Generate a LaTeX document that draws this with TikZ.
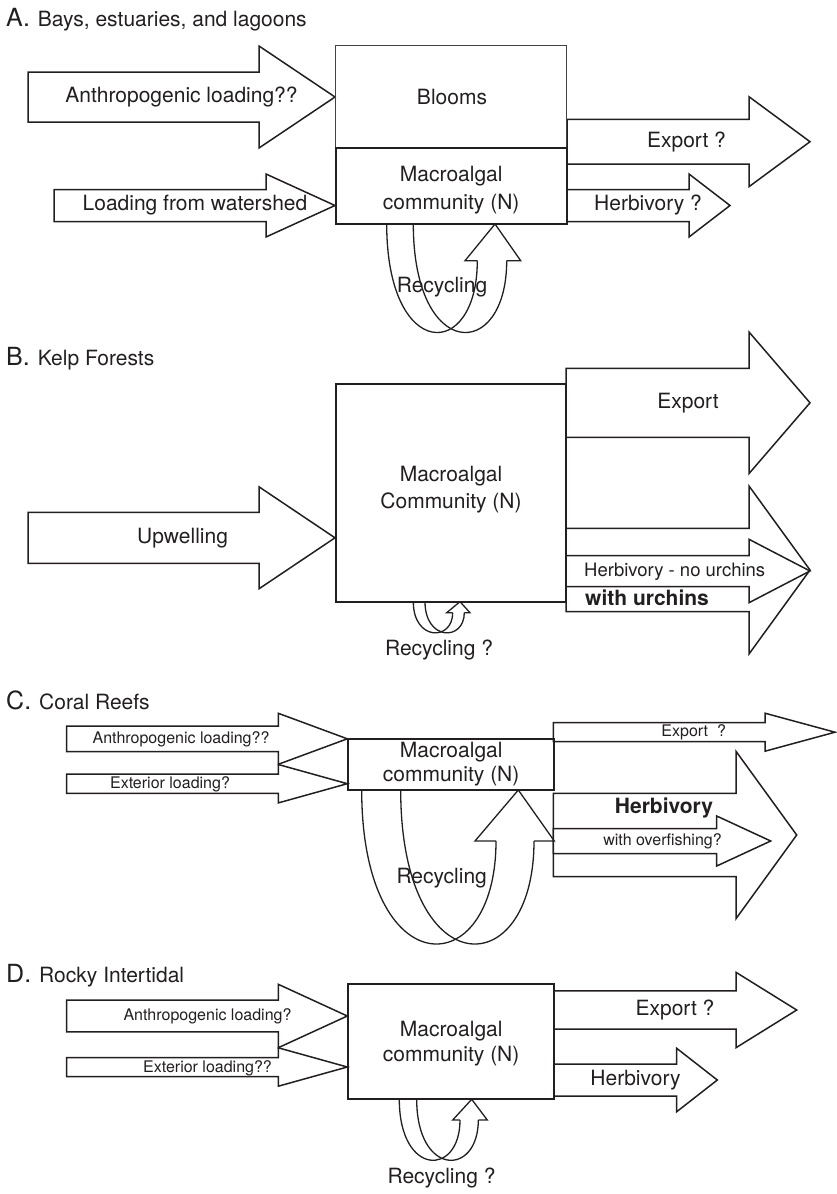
\documentclass[tikz,border=0pt]{standalone}
\usepackage{fontspec}
\setmainfont{TeX Gyre Heros}
\definecolor{ink}{RGB}{35,31,32}
\newcommand\fsz[2]{\fontsize{#1}{#2}\selectfont}
% broad flow arrow: tail x, head-base x, tip x, axis y, half shaft width, half head width
\newcommand\flowarrow[6]{%
  \draw[flowline] (#1,{#4-#5}) -- (#2,{#4-#5}) -- (#2,{#4-#6}) -- (#3,#4)
    -- (#2,{#4+#6}) -- (#2,{#4+#5}) -- (#1,{#4+#5}) -- cycle;}
% twisted recycling ribbon: left edges xa, xb at ytop, lowest point ybot,
% shaft edges xsl, xsr at the head base ybase
\newcommand\recycleband[7]{%
  \draw[recyc] (#1,#3) .. controls (#1,{(8*#4-#3-#7)/6}) and (#5,{(8*#4-#3-#7)/6}) .. (#5,#7);
  \draw[recyc] (#2,#3) .. controls (#2,{(8*#4-#3-#7)/6}) and (#6,{(8*#4-#3-#7)/6}) .. (#6,#7);}
% head of the recycling ribbon: xl, xsl, xtip, ytip, xsr, xr, ybase
\newcommand\recyclehead[7]{%
  \draw[recyc] (#2,#7) -- (#1,#7) -- (#3,#4) -- (#6,#7) -- (#5,#7);}
\begin{document}
\begin{tikzpicture}[x=1pt,y=-1pt,
  flowline/.style={draw=ink, fill=white, line width=1.5pt, line join=miter},
  recyc/.style={draw=ink, line width=1.3pt, line join=miter},
  box/.style={draw=ink, line width=1.7pt, inner sep=0pt, rectangle},
  txt/.style={inner sep=0pt, text=ink},
  big/.style={txt, font=\fsz{21}{25}},
  mid/.style={txt, font=\fsz{18.5}{22}},
  small/.style={txt, font=\fsz{16}{19}},
  boxtxt/.style={txt, align=center},
  panel/.style={txt, anchor=base west}]
\useasboundingbox (0,0) rectangle (836,1194);

% ---------------- A. Bays, estuaries, and lagoons ----------------
\node[panel] (labA) at (6,26) {\fsz{25}{30}A.\hspace{8pt}\fsz{21}{25}Bays, estuaries, and lagoons};
\flowarrow{28}{259}{335}{97}{25}{51}
\flowarrow{54}{266}{335}{205.5}{16}{31.5}
\flowarrow{567}{749}{810}{141.7}{22.3}{45}
\flowarrow{567}{689}{730}{205.5}{16}{31.5}
\node[box, draw=ink!85, line width=1pt, minimum width=231pt, minimum height=102pt] (bloomsA) at (451.2,96.7) {};
\node[box, minimum width=231pt, minimum height=76.6pt] (macroA) at (451.2,186) {};
\recycleband{386.7}{413.3}{224}{332}{477.3}{506.7}{260.7}
\recyclehead{465}{477.3}{495}{224}{506.7}{520.7}{260.7}
\node[big] (tBlooms) at (452,97) {Blooms};
\node[big, boxtxt, font=\fsz{21}{28}] (tMacroA) at (451.2,190.5) {Macroalgal\\community (N)};
\node[big] (tAnthA) at (181.5,97) {Anthropogenic loading??};
\node[big] (tWatershed) at (195,205.5) {Loading from watershed};
\node[big] (tExportA) at (686.5,141.7) {Export ?};
\node[big] (tHerbA) at (648,205) {Herbivory ?};
\node[big] (tRecA) at (442,287) {Recycling};

% ---------------- B. Kelp Forests ----------------
\node[panel] (labB) at (6,365) {\fsz{25}{30}B.\hspace{8pt}\fsz{21}{25}Kelp Forests};
\flowarrow{28}{259}{335}{537.8}{25.5}{51}
\flowarrow{566}{749}{810}{402.8}{34.5}{70.8}
\flowarrow{566}{749}{810}{570}{41.7}{84}
\flowarrow{566}{749}{810}{571}{15.5}{31.7}
\node[box, minimum width=230.3pt, minimum height=217.4pt] (macroB) at (450.85,493) {};
\recycleband{413.3}{425}{601.7}{632.7}{452.7}{464.3}{612.7}
\recyclehead{446.7}{452.7}{460}{601.7}{464.3}{470}{612.7}
\node[big, boxtxt, font=\fsz{21}{27}] (tMacroB) at (451,489.7) {Macroalgal\\Community (N)};
\node[big] (tUpwelling) at (182.5,538) {Upwelling};
\node[big] (tExportB) at (688,403) {Export};
\node[mid, anchor=west] (tNoUrchins) at (584,572) {Herbivory - no urchins};
\node[big, anchor=west, font=\fsz{21}{25}\bfseries] (tUrchins) at (585,598) {with urchins};
\node[big] (tRecB) at (439,650) {Recycling ?};

% ---------------- C. Coral Reefs ----------------
\node[panel] (labC) at (6,709.3) {\fsz{25}{30}C.\hspace{8pt}\fsz{21}{25}Coral Reefs};
\flowarrow{66.7}{278.3}{347.3}{738.8}{12.8}{25.5}
\flowarrow{66.7}{278.3}{347.3}{783.7}{9.7}{19.2}
\flowarrow{553.3}{765}{835}{732.2}{9.5}{19}
\flowarrow{553.3}{736}{796.7}{835}{41.7}{83.7}
\flowarrow{553.3}{716.7}{770.7}{841}{12.5}{25}
\node[box, minimum width=205.7pt, minimum height=51pt] (macroC) at (451.15,764.5) {};
\recycleband{361.7}{400.7}{790}{943.3}{496}{534}{841}
\recyclehead{475}{496}{518.3}{790}{534}{554.3}{841}
\node[big, boxtxt, font=\fsz{21}{24.5}] (tMacroC) at (451.15,764.2) {Macroalgal\\community (N)};
\node[small] (tAnthC) at (181,739) {Anthropogenic loading??};
\node[small] (tExtC) at (170,784) {Exterior loading?};
\node[small] (tExportC) at (693.7,732) {Export\ \ ?};
\node[big, font=\fsz{21}{25}\bfseries] (tHerbC) at (664,808) {Herbivory};
\node[small] (tOverfish) at (662.5,841.7) {with overfishing?};
\node[big] (tRecC) at (441.7,878.3) {Recycling};

% ---------------- D. Rocky Intertidal ----------------
\node[panel] (labD) at (6,982.7) {\fsz{25}{30}D.\hspace{8pt}\fsz{21}{25}Rocky Intertidal};
\flowarrow{66.7}{278.3}{347.3}{1016}{15.8}{31.7}
\flowarrow{66.7}{278.3}{347.3}{1067}{9.5}{19.2}
\flowarrow{554}{736}{796.7}{1010}{19.2}{37.7}
\flowarrow{554}{676.7}{717.3}{1080}{16}{31.7}
\node[box, minimum width=205.7pt, minimum height=115pt] (macroD) at (451.15,1041.8) {};
\recycleband{399.3}{416.7}{1099.3}{1160}{460}{478.3}{1120}
\recyclehead{452.7}{460}{471.7}{1099.3}{478.3}{487.3}{1120}
\node[big, boxtxt, font=\fsz{21}{25}] (tMacroD) at (451.15,1043.9) {Macroalgal\\community (N)};
\node[small] (tAnthD) at (207.5,1016.7) {Anthropogenic loading?};
\node[small] (tExtD) at (207.5,1068.3) {Exterior loading??};
\node[big] (tExportD) at (675,1010) {Export ?};
\node[big] (tHerbD) at (635.5,1080) {Herbivory};
\node[big] (tRecD) at (441.5,1178.3) {Recycling ?};
\end{tikzpicture}
\end{document}
